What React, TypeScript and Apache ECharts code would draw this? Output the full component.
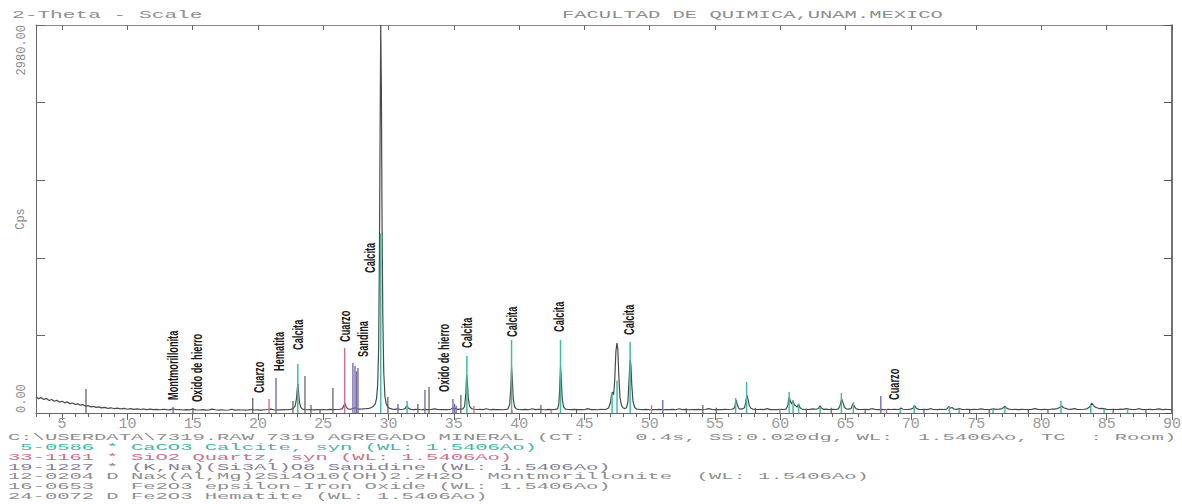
import React, { useEffect, useRef } from "react";
import * as echarts from "echarts";

// ---------- axis / text content ----------
const xMin = 3;
const xMax = 90;
const xTickLabels = [5, 10, 15, 20, 25, 30, 35, 40, 45, 50, 55, 60, 65, 70, 75, 80, 85, 90];
const xMinorTicks = [3, 4, 5, 6, 7, 8, 9, 10, 11, 12, 13, 14, 15, 16, 17, 18, 19, 20, 21, 22, 23, 24, 25, 26, 27, 28, 29, 30, 31, 32, 33, 34, 35, 36, 37, 38, 39, 40, 41, 42, 43, 44, 45, 46, 47, 48, 49, 50, 51, 52, 53, 54, 55, 56, 57, 58, 59, 60, 61, 62, 63, 64, 65, 66, 67, 68, 69, 70, 71, 72, 73, 74, 75, 76, 77, 78, 79, 80, 81, 82, 83, 84, 85, 86, 87, 88, 89, 90];
const yMin = 0;
const yMax = 2980;
const yInterval = 596;
const yLabelValues = [0, 2980];
const yName = "Cps";

const headerLeft = "2-Theta - Scale";
const headerRight = "FACULTAD DE QUIMICA,UNAM.MEXICO";
const footerLines = [
  "C:\\USERDATA\\7319.RAW 7319 AGREGADO MINERAL (CT:    0.4s, SS:0.020dg, WL:  1.5406Ao, TC  : Room)",
  " 5-0586 * CaCO3 Calcite, syn (WL: 1.5406Ao)",
  "33-1161 * SiO2 Quartz, syn (WL: 1.5406Ao)",
  "19-1227 * (K,Na)(Si3Al)O8 Sanidine (WL: 1.5406Ao)",
  "12-0204 D Nax(Al,Mg)2Si4O10(OH)2.zH2O  Montmorillonite  (WL: 1.5406Ao)",
  "16-0653   Fe2O3 epsilon-Iron Oxide (WL: 1.5406Ao)",
  "24-0072 D Fe2O3 Hematite (WL: 1.5406Ao)",
];
const footerColors = ["#8e8e8e", "#3fb8a2", "#cf6f8a", "#86809a", "#8e8e8e", "#8e8e8e", "#8e8e8e"];

// ---------- measured scan (2-theta, counts) ----------
const scan: [number, number][] = [
  [3.0, 125], [3.2, 110], [3.4, 118], [3.6, 104], [3.8, 112], [4.0, 96], [4.2, 104], [4.4, 90], [4.6, 97], [4.8, 84],
  [5.0, 90], [5.2, 78], [5.4, 85], [5.6, 72], [5.8, 77], [6.0, 66], [6.2, 70], [6.4, 60], [6.6, 64], [6.8, 53],
  [7.0, 56], [7.2, 47], [7.4, 51], [7.6, 43], [7.8, 47], [8.0, 39], [8.25, 43], [8.5, 35], [8.75, 40], [9.0, 33],
  [9.25, 37], [9.5, 31], [9.75, 35], [10.0, 29], [10.25, 34], [10.5, 28], [10.75, 32], [11.0, 27], [11.25, 31], [11.5, 26],
  [11.75, 30], [12.0, 26], [12.25, 28], [12.5, 25], [12.75, 29], [13.0, 26], [13.25, 24], [13.5, 32], [13.75, 25], [14.0, 27],
  [14.25, 23], [14.5, 26], [14.75, 24], [15.0, 30], [15.25, 24], [15.5, 23], [15.75, 26], [16.0, 22], [16.25, 24], [16.5, 30],
  [16.75, 25], [17.0, 22], [17.25, 25], [17.5, 21], [17.75, 23], [18.0, 29], [18.25, 22], [18.5, 25], [18.75, 23], [19.0, 22],
  [19.25, 24], [19.5, 27], [19.75, 23], [20.0, 24], [20.25, 22], [20.5, 25], [20.75, 27], [21.0, 30], [21.25, 23], [21.5, 25],
  [21.75, 24], [22.0, 26], [22.25, 25], [22.5, 28], [22.7, 35], [22.85, 55], [22.95, 110], [23.02, 195], [23.06, 223], [23.1, 170],
  [23.17, 85], [23.27, 45], [23.4, 30], [23.6, 27], [23.8, 25], [24.0, 27], [24.25, 24], [24.5, 26], [24.75, 25], [25.0, 27],
  [25.25, 25], [25.5, 28], [25.75, 26], [26.0, 27], [26.25, 29], [26.45, 32], [26.58, 55], [26.66, 77], [26.74, 50], [26.88, 31],
  [27.1, 29], [27.3, 36], [27.45, 40], [27.6, 34], [27.8, 30], [28.0, 31], [28.25, 33], [28.5, 36], [28.7, 42], [28.85, 52],
  [28.98, 70], [29.08, 110], [29.17, 220], [29.24, 500], [29.3, 1200], [29.35, 2100], [29.4, 2980], [29.45, 2500], [29.5, 1500], [29.56, 750],
  [29.63, 320], [29.72, 130], [29.82, 70], [29.95, 45], [30.1, 35], [30.3, 30], [30.5, 28], [30.7, 32], [30.9, 27], [31.1, 29],
  [31.28, 34], [31.4, 58], [31.52, 36], [31.7, 28], [31.9, 26], [32.1, 28], [32.3, 27], [32.5, 25], [32.75, 28], [33.0, 26],
  [33.25, 27], [33.5, 32], [33.75, 28], [34.0, 26], [34.25, 27], [34.5, 26], [34.75, 29], [34.95, 38], [35.1, 34], [35.3, 28],
  [35.5, 30], [35.7, 32], [35.82, 50], [35.92, 150], [35.98, 292], [36.04, 240], [36.1, 120], [36.2, 55], [36.35, 33], [36.55, 29],
  [36.8, 27], [37.0, 28], [37.25, 26], [37.5, 33], [37.75, 25], [38.0, 28], [38.25, 26], [38.5, 27], [38.75, 25], [39.0, 28],
  [39.15, 31], [39.28, 70], [39.36, 190], [39.42, 353], [39.48, 260], [39.55, 110], [39.65, 48], [39.8, 30], [40.0, 27], [40.25, 26],
  [40.5, 28], [40.75, 25], [41.0, 33], [41.25, 26], [41.5, 28], [41.75, 27], [42.0, 25], [42.25, 28], [42.5, 26], [42.75, 28],
  [42.95, 32], [43.04, 70], [43.11, 190], [43.17, 353], [43.23, 260], [43.3, 110], [43.4, 48], [43.55, 30], [43.75, 27], [44.0, 26],
  [44.25, 28], [44.5, 26], [44.75, 27], [45.0, 25], [45.25, 34], [45.5, 26], [45.75, 27], [46.0, 25], [46.25, 28], [46.5, 27],
  [46.7, 30], [46.85, 38], [46.98, 75], [47.08, 140], [47.15, 161], [47.24, 140], [47.32, 250], [47.41, 470], [47.49, 538], [47.56, 490],
  [47.63, 300], [47.72, 120], [47.85, 55], [47.98, 38], [48.1, 34], [48.22, 40], [48.33, 85], [48.42, 250], [48.5, 407], [48.56, 370],
  [48.63, 210], [48.72, 90], [48.85, 42], [49.0, 30], [49.25, 27], [49.5, 26], [49.75, 28], [50.0, 25], [50.25, 27], [50.5, 26],
  [50.75, 28], [51.0, 25], [51.25, 27], [51.5, 26], [51.75, 28], [52.0, 25], [52.25, 33], [52.5, 26], [52.75, 28], [53.0, 25],
  [53.25, 27], [53.5, 26], [53.75, 28], [54.0, 25], [54.25, 27], [54.5, 33], [54.75, 28], [55.0, 26], [55.25, 27], [55.5, 26],
  [55.75, 28], [56.0, 27], [56.25, 29], [56.45, 34], [56.55, 60], [56.62, 100], [56.7, 65], [56.82, 36], [56.95, 30], [57.1, 31],
  [57.25, 40], [57.35, 75], [57.44, 138], [57.52, 110], [57.62, 60], [57.75, 36], [57.9, 30], [58.1, 28], [58.3, 27], [58.5, 28],
  [58.75, 26], [59.0, 34], [59.25, 26], [59.5, 27], [59.75, 26], [60.0, 28], [60.25, 27], [60.45, 30], [60.58, 60], [60.67, 123],
  [60.75, 100], [60.85, 70], [60.98, 92], [61.08, 62], [61.2, 55], [61.28, 45], [61.4, 70], [61.5, 42], [61.65, 31], [61.8, 28],
  [62.0, 27], [62.25, 28], [62.5, 32], [62.75, 29], [62.92, 35], [63.05, 55], [63.15, 38], [63.3, 28], [63.5, 30], [63.75, 27],
  [64.0, 28], [64.25, 27], [64.45, 32], [64.58, 58], [64.7, 108], [64.8, 80], [64.92, 42], [65.05, 32], [65.2, 30], [65.42, 34],
  [65.56, 70], [65.68, 48], [65.82, 32], [66.0, 28], [66.25, 27], [66.5, 28], [66.75, 26], [67.0, 33], [67.25, 28], [67.5, 26],
  [67.75, 28], [68.0, 26], [68.25, 29], [68.5, 27], [68.75, 28], [69.0, 27], [69.15, 30], [69.25, 38], [69.4, 29], [69.6, 27],
  [69.8, 28], [70.0, 30], [70.15, 35], [70.3, 56], [70.42, 36], [70.6, 28], [70.8, 27], [71.0, 28], [71.25, 26], [71.5, 33],
  [71.75, 27], [72.0, 26], [72.25, 28], [72.5, 27], [72.75, 30], [72.9, 50], [73.0, 38], [73.15, 42], [73.3, 30], [73.5, 28],
  [73.75, 33], [73.9, 28], [74.1, 27], [74.35, 28], [74.6, 26], [74.85, 28], [75.1, 27], [75.35, 32], [75.6, 28], [75.85, 27],
  [76.1, 28], [76.35, 32], [76.5, 28], [76.75, 30], [77.0, 34], [77.2, 52], [77.35, 36], [77.5, 30], [77.75, 27], [78.0, 28],
  [78.25, 26], [78.5, 28], [78.75, 27], [79.0, 26], [79.25, 28], [79.5, 33], [79.75, 28], [80.0, 26], [80.25, 28], [80.5, 27],
  [80.75, 29], [81.0, 30], [81.2, 34], [81.4, 42], [81.55, 55], [81.7, 40], [81.85, 36], [82.0, 30], [82.25, 28], [82.5, 33],
  [82.75, 28], [83.0, 27], [83.25, 29], [83.5, 32], [83.7, 48], [83.85, 77], [83.98, 58], [84.12, 45], [84.25, 40], [84.45, 34],
  [84.65, 36], [84.85, 32], [85.0, 28], [85.25, 27], [85.5, 28], [85.75, 27], [86.0, 29], [86.25, 28], [86.5, 33], [86.7, 30],
  [86.9, 28], [87.2, 27], [87.5, 33], [87.75, 26], [88.0, 27], [88.25, 28], [88.5, 26], [88.75, 28], [89.0, 32], [89.25, 26],
  [89.5, 28], [89.75, 27], [90.0, 26],
];

// ---------- reference stick patterns (2-theta, height) ----------
const calciteSticks: [number, number][] = [
  [23.05, 376], [29.4, 1382], [31.42, 92], [36.0, 438], [39.42, 561], [43.17, 561], [47.12, 154], [47.5, 250], [48.5, 545],
  [56.58, 115], [57.42, 238], [60.68, 161], [60.98, 100], [61.4, 70], [63.05, 46], [64.68, 154], [65.6, 84], [69.2, 30],
  [70.25, 61], [72.95, 46], [73.7, 30], [76.3, 30], [77.2, 46], [81.5, 92], [83.78, 61], [84.8, 30], [86.6, 25],
];
const quartzSticks: [number, number][] = [
  [20.85, 107], [26.64, 499], [36.54, 54], [39.46, 22], [42.45, 25], [50.14, 61], [59.96, 30], [68.14, 30],
];
const purpleSticks: [number, number][] = [
  [13.5, 46], [21.38, 269], [27.27, 384], [27.43, 361], [27.55, 320], [27.66, 346], [30.72, 69], [32.79, 176],
  [34.93, 107], [35.06, 70], [35.18, 55], [51.0, 100], [67.7, 130],
];
const graySticks: [number, number][] = [
  [6.83, 184], [15.02, 38], [19.6, 115], [22.68, 92], [23.6, 284], [24.06, 61], [24.75, 30], [25.74, 192], [29.95, 123],
  [32.25, 69], [33.1, 200], [35.54, 138], [41.67, 61], [44.4, 25], [52.8, 35], [54.07, 61], [55.1, 40], [58.1, 40],
  [62.0, 35], [63.9, 40], [66.5, 30], [71.0, 25], [74.5, 25], [76.0, 30], [79.0, 25], [80.5, 30], [85.5, 25], [88.0, 25],
];

// ---------- phase annotations ----------
const annotationNames = [
  "Montmorillonita", "Oxido de hierro", "Cuarzo", "Hematita", "Calcita", "Cuarzo", "Sandina", "Calcita",
  "Oxido de hierro", "Calcita", "Calcita", "Calcita", "Calcita", "Cuarzo",
];
const annotationTheta = [13.5, 15.35, 20.1, 21.6, 23.1, 26.7, 28.1, 28.6, 34.25, 36.0, 39.5, 43.06, 48.4, 68.7];
const annotationCounts = [100, 84, 154, 323, 484, 545, 430, 1075, 161, 499, 584, 622, 599, 100];

const MONO = "'Liberation Mono', 'DejaVu Sans Mono', monospace";
const PITCH_SCALE = 1.708;

export default function App() {
  const ref = useRef<HTMLDivElement>(null);

  useEffect(() => {
    if (!ref.current) return;
    const chart = echarts.init(ref.current, null, { renderer: "svg" });

    const stickSeries = (name: string, data: [number, number][], color: string, width: number) => ({
      type: "custom",
      name,
      data,
      xAxisIndex: 0,
      yAxisIndex: 0,
      z: 4,
      silent: true,
      renderItem: (_params: any, api: any) => {
        const top = api.coord([api.value(0), api.value(1)]);
        const base = api.coord([api.value(0), 0]);
        return {
          type: "line",
          shape: { x1: top[0], y1: base[1], x2: top[0], y2: top[1] },
          style: { stroke: color, lineWidth: width },
        };
      },
    });

    const annotationData = annotationTheta.map((t, i) => [t, annotationCounts[i]]);

    const footerGraphics = footerLines.map((line, i) => ({
      type: "text",
      x: 8,
      y: 437.5 + i * 9.9,
      scaleX: PITCH_SCALE,
      scaleY: 0.8,
      silent: true,
      style: {
        text: line,
        fontFamily: MONO,
        fontSize: 12,
        fill: footerColors[i],
        verticalAlign: "middle",
      },
    }));

    const option: any = {
      animation: false,
      backgroundColor: "#ffffff",
      grid: { left: 36, right: 10, top: 25, bottom: 91, containLabel: false, outerBoundsMode: "none" },
      xAxis: [
        {
          type: "value",
          min: xMin,
          max: xMax,
          position: "bottom",
          axisLine: { show: true, lineStyle: { color: "#666", width: 1 } },
          axisTick: { show: true, customValues: xTickLabels, length: 7, lineStyle: { color: "#666" } },
          axisLabel: {
            show: true,
            customValues: xTickLabels,
            fontFamily: MONO,
            fontSize: 15,
            color: "#9a9a9a",
            margin: 4,
          },
          splitLine: { show: false },
        },
        {
          type: "value",
          min: xMin,
          max: xMax,
          position: "bottom",
          axisLine: { show: false },
          axisTick: { show: true, customValues: xMinorTicks, length: 4, lineStyle: { color: "#666" } },
          axisLabel: { show: false },
          splitLine: { show: false },
        },
        {
          type: "value",
          min: xMin,
          max: xMax,
          position: "top",
          axisLine: { show: true, lineStyle: { color: "#888", width: 1 } },
          axisTick: { show: true, inside: true, customValues: xTickLabels, length: 5, lineStyle: { color: "#666" } },
          axisLabel: { show: false },
          splitLine: { show: false },
        },
      ],
      yAxis: [
        {
          type: "value",
          min: yMin,
          max: yMax,
          interval: yInterval,
          position: "left",
          name: yName,
          nameLocation: "middle",
          nameRotate: 90,
          nameGap: 9,
          nameMoveOverlap: false,
          nameTextStyle: { fontFamily: MONO, fontSize: 12, color: "#8a8a8a" },
          axisLine: { show: true, lineStyle: { color: "#666", width: 1 } },
          axisTick: { show: true, inside: true, length: 9, lineStyle: { color: "#666" } },
          axisLabel: {
            show: true,
            customValues: yLabelValues,
            rotate: 90,
            formatter: (v: number) => v.toFixed(2),
            alignMinLabel: "left",
            alignMaxLabel: "right",
            fontFamily: MONO,
            fontSize: 12,
            color: "#8a8a8a",
            margin: 8,
          },
          splitLine: { show: false },
        },
        {
          type: "value",
          min: yMin,
          max: yMax,
          interval: yInterval,
          position: "right",
          axisLine: { show: true, lineStyle: { color: "#444", width: 1.5 } },
          axisTick: { show: true, inside: true, length: 8, lineStyle: { color: "#555" } },
          axisLabel: { show: false },
          splitLine: { show: false },
        },
      ],
      graphic: [
        {
          type: "text",
          x: 12,
          y: 15,
          scaleX: 1.764,
          scaleY: 0.85,
          silent: true,
          style: { text: headerLeft, fontFamily: MONO, fontSize: 12, fill: "#8e8e8e", verticalAlign: "middle" },
        },
        {
          type: "text",
          x: 562,
          y: 15,
          scaleX: PITCH_SCALE,
          scaleY: 0.85,
          silent: true,
          style: { text: headerRight, fontFamily: MONO, fontSize: 12, fill: "#8e8e8e", verticalAlign: "middle" },
        },
        ...footerGraphics,
      ],
      series: [
        {
          type: "line",
          name: "scan",
          data: scan,
          xAxisIndex: 0,
          yAxisIndex: 0,
          showSymbol: false,
          symbol: "none",
          z: 3,
          lineStyle: { color: "#4a4a4a", width: 1.2 },
          silent: true,
        },
        stickSeries("Calcite", calciteSticks, "#3dbfa4", 1.5),
        stickSeries("Quartz", quartzSticks, "#d4708c", 1.4),
        stickSeries("Sanidine/Fe", purpleSticks, "#7a6cb0", 1.4),
        stickSeries("Other", graySticks, "#5a5a5a", 1.2),
        {
          type: "custom",
          name: "labels",
          data: annotationData,
          xAxisIndex: 0,
          yAxisIndex: 0,
          z: 6,
          silent: true,
          renderItem: (params: any, api: any) => {
            const p = api.coord([api.value(0), api.value(1)]);
            return {
              type: "text",
              x: p[0],
              y: p[1],
              rotation: Math.PI / 2,
              scaleX: 0.66,
              style: {
                text: annotationNames[params.dataIndex],
                fontFamily: "'Liberation Sans', Arial, sans-serif",
                fontSize: 14,
                fontWeight: "bold",
                fill: "#1a1a1a",
                align: "left",
                verticalAlign: "middle",
              },
            };
          },
        },
      ],
    };

    chart.setOption(option);
    return () => {
      chart.dispose();
    };
  }, []);

  return (
    <div
      ref={ref}
      style={{ position: "fixed", left: 0, top: 0, width: 1182, height: 504, background: "#fff" }}
    />
  );
}
